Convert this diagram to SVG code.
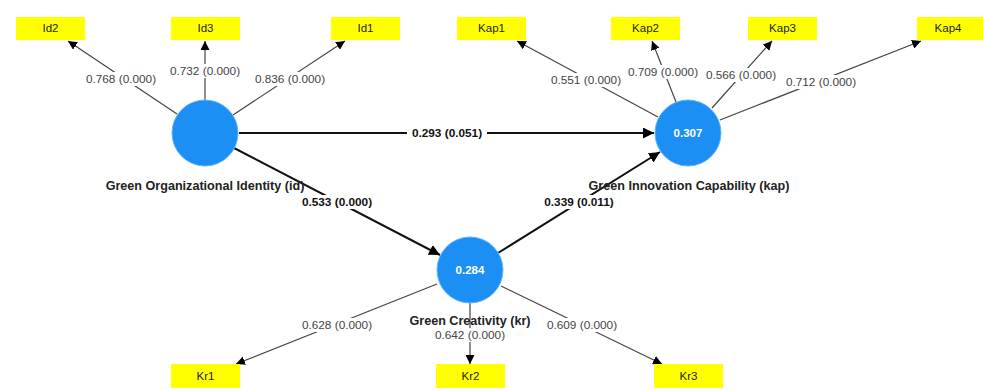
<svg xmlns="http://www.w3.org/2000/svg" width="983" height="390" viewBox="0 0 983 390">
<style>
.bg{fill:#ffffff}
.ind rect{fill:#ffff00}
.ind text{font-family:"Liberation Sans",Arial,sans-serif;font-size:11.5px;fill:#222;text-anchor:middle}
.lv circle{fill:#1c8ff5;stroke:#5fb3ff;stroke-width:1}
.lv text.r2{font-family:"Liberation Sans",Arial,sans-serif;font-size:11.5px;font-weight:bold;fill:#ffffff;text-anchor:middle}
.name{font-family:"Liberation Sans",Arial,sans-serif;font-size:12.6px;font-weight:bold;fill:#222;text-anchor:middle}
.thin{stroke:#444;stroke-width:1.2;fill:none;marker-end:url(#ah)}
.thick{stroke:#111;stroke-width:2;fill:none;marker-end:url(#ahb)}
.lab{font-family:"Liberation Sans",Arial,sans-serif;font-size:11.8px;fill:#444;text-anchor:middle}
.labb{font-family:"Liberation Sans",Arial,sans-serif;font-size:11.8px;font-weight:bold;fill:#111;text-anchor:middle}
.lbg{fill:#ffffff}
</style>
<defs>
<marker id="ah" viewBox="0 0 10 10" refX="10" refY="5" markerWidth="9" markerHeight="9" markerUnits="userSpaceOnUse" orient="auto"><path d="M0,0 L10,5 L0,10 z" fill="#000"/></marker>
<marker id="ahb" viewBox="0 0 10 10" refX="10" refY="5" markerWidth="11" markerHeight="11" markerUnits="userSpaceOnUse" orient="auto"><path d="M0,0 L10,5 L0,10 z" fill="#000"/></marker>
</defs>
<rect class="bg" x="0" y="0" width="983" height="390"/>
<g id="connectors">
<line class="thin" x1="177" y1="114" x2="68" y2="41"/>
<line class="thin" x1="205" y1="100" x2="205" y2="41"/>
<line class="thin" x1="233" y1="115" x2="345" y2="41"/>
<line class="thick" x1="239" y1="133" x2="654" y2="133"/>
<line class="thick" x1="234" y1="148" x2="440" y2="255"/>
<line class="thick" x1="498" y1="253" x2="660" y2="152"/>
<line class="thin" x1="658" y1="117" x2="517" y2="41"/>
<line class="thin" x1="676" y1="102" x2="652" y2="41"/>
<line class="thin" x1="712" y1="108" x2="772" y2="41"/>
<line class="thin" x1="720" y1="120" x2="921" y2="41"/>
<line class="thin" x1="437" y1="284" x2="236" y2="364"/>
<line class="thin" x1="470" y1="303" x2="470" y2="364"/>
<line class="thin" x1="501" y1="286" x2="662" y2="364"/>
<g id="labels">
<rect class="lbg" x="84" y="72" width="74" height="14"/><text class="lab" x="121" y="83">0.768 (0.000)</text>
<rect class="lbg" x="168" y="64" width="74" height="14"/><text class="lab" x="205" y="75">0.732 (0.000)</text>
<rect class="lbg" x="253" y="72" width="74" height="14"/><text class="lab" x="290" y="83">0.836 (0.000)</text>
<rect class="lbg" x="549" y="73" width="74" height="14"/><text class="lab" x="586" y="84">0.551 (0.000)</text>
<rect class="lbg" x="626" y="65" width="74" height="14"/><text class="lab" x="663" y="76">0.709 (0.000)</text>
<rect class="lbg" x="704" y="68" width="74" height="14"/><text class="lab" x="741" y="79">0.566 (0.000)</text>
<rect class="lbg" x="784" y="75" width="74" height="14"/><text class="lab" x="821" y="86">0.712 (0.000)</text>
<rect class="lbg" x="407" y="126" width="80" height="14"/><text class="labb" x="447" y="137">0.293 (0.051)</text>
<rect class="lbg" x="299" y="195" width="76" height="14"/><text class="labb" x="337" y="206">0.533 (0.000)</text>
<rect class="lbg" x="541" y="195" width="76" height="14"/><text class="labb" x="579" y="206">0.339 (0.011)</text>
<rect class="lbg" x="300" y="318" width="74" height="14"/><text class="lab" x="337" y="329">0.628 (0.000)</text>
<rect class="lbg" x="433" y="328" width="74" height="14"/><text class="lab" x="470" y="339">0.642 (0.000)</text>
<rect class="lbg" x="545" y="318" width="74" height="14"/><text class="lab" x="582" y="329">0.609 (0.000)</text>
</g>
</g>
<g id="id2" class="ind"><rect x="16" y="17" width="69" height="23"/><text x="50.5" y="32">Id2</text></g>
<g id="id3" class="ind"><rect x="171" y="17" width="69" height="23"/><text x="205.5" y="32">Id3</text></g>
<g id="id1" class="ind"><rect x="331" y="17" width="69" height="23"/><text x="365.5" y="32">Id1</text></g>
<g id="kap1" class="ind"><rect x="457" y="17" width="69" height="23"/><text x="491.5" y="32">Kap1</text></g>
<g id="kap2" class="ind"><rect x="611" y="17" width="69" height="23"/><text x="645.5" y="32">Kap2</text></g>
<g id="kap3" class="ind"><rect x="748" y="17" width="69" height="23"/><text x="782.5" y="32">Kap3</text></g>
<g id="kap4" class="ind"><rect x="917" y="17" width="66" height="23"/><text x="948" y="32">Kap4</text></g>
<g id="kr1" class="ind"><rect x="171" y="364" width="69" height="24"/><text x="205.5" y="380">Kr1</text></g>
<g id="kr2" class="ind"><rect x="436" y="364" width="69" height="24"/><text x="470.5" y="380">Kr2</text></g>
<g id="kr3" class="ind"><rect x="654" y="364" width="69" height="24"/><text x="688.5" y="380">Kr3</text></g>
<g id="id" class="lv"><circle cx="205" cy="133" r="33"/><text class="name" x="205" y="190">Green Organizational Identity (id)</text></g>
<g id="kap" class="lv"><circle cx="688" cy="133" r="33"/><text class="r2" x="688" y="137">0.307</text><text class="name" x="689" y="190">Green Innovation Capability (kap)</text></g>
<g id="kr" class="lv"><circle cx="470" cy="270" r="33"/><text class="r2" x="470" y="274">0.284</text><text class="name" x="470" y="325">Green Creativity (kr)</text></g>
</svg>
